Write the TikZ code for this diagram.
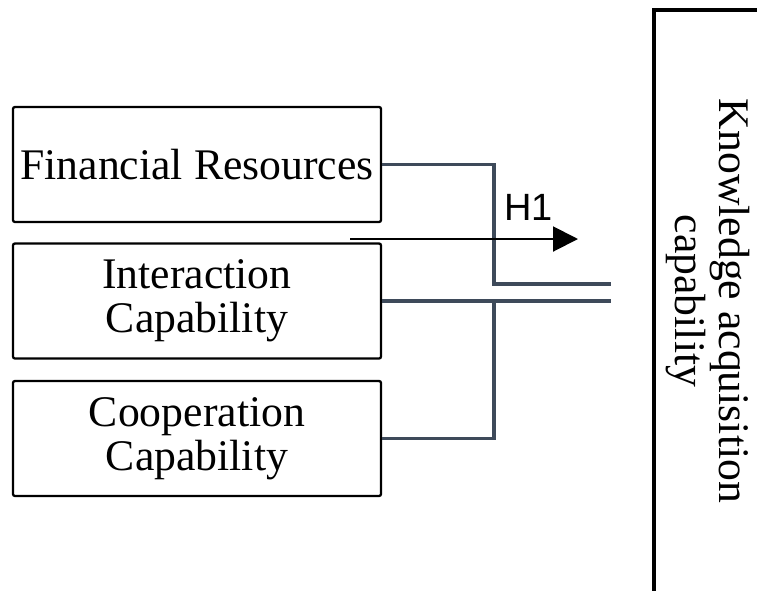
\documentclass[tikz,border=0pt]{standalone}
\usepackage{fontspec}
\setmainfont{Liberation Serif}
\newfontfamily\labelsans{Liberation Sans}
\usetikzlibrary{arrows.meta}
\definecolor{linkslate}{HTML}{3E4A5A}
\tikzset{
  factorbox/.style={draw=black, line width=2.3pt, rounded corners=2pt,
    minimum width=368pt, minimum height=115pt, inner sep=0pt,
    align=center, font=\fontsize{43.7}{44}\selectfont},
  outcomebox/.style={draw=black, line width=3.3pt},
  conn/.style={draw=linkslate, line width=3.3pt},
  harrow/.style={draw=black, line width=2pt,
    -{Triangle[length=25pt,width=25pt]}},
}
\begin{document}
\begin{tikzpicture}[x=1pt, y=-1pt]
  \useasboundingbox (0,0) rectangle (757,590);
  \clip (0,0) rectangle (757,590);

  % outcome box on the right (runs past the right and bottom edges)
  \draw[outcomebox] (654,10) rectangle (820,640);
  \node[rotate=-90, align=center, inner sep=0pt,
        font=\fontsize{43.7}{44}\selectfont] (kac) at (708,301)
    {Knowledge acquisition\\capability};

  % antecedent factors
  \node[factorbox] (fin)   at (197,164.5) {Financial Resources};
  \node[factorbox] (inter) at (197,301)   {Interaction\\Capability};
  \node[factorbox] (coop)  at (197,438.5) {Cooperation\\Capability};

  % connector ends and bend column
  \coordinate (bend) at (494,0);
  \coordinate (e1) at (611,284);
  \coordinate (e2) at (611,301);

  \draw[conn] (fin.east) -| (bend |- e1) -- (e1);
  \draw[conn] (inter.east) -- (e2);
  \draw[conn] (coop.east) -| (bend |- e2);

  % hypothesis arrow
  \coordinate (h1s) at (350,239);
  \coordinate (h1e) at (578,239);
  \draw[harrow] (h1s) -- (h1e);
  \node[font=\labelsans\fontsize{38}{40}\selectfont, inner sep=0pt] (h1) at (528.5,207) {H1};
\end{tikzpicture}
\end{document}
